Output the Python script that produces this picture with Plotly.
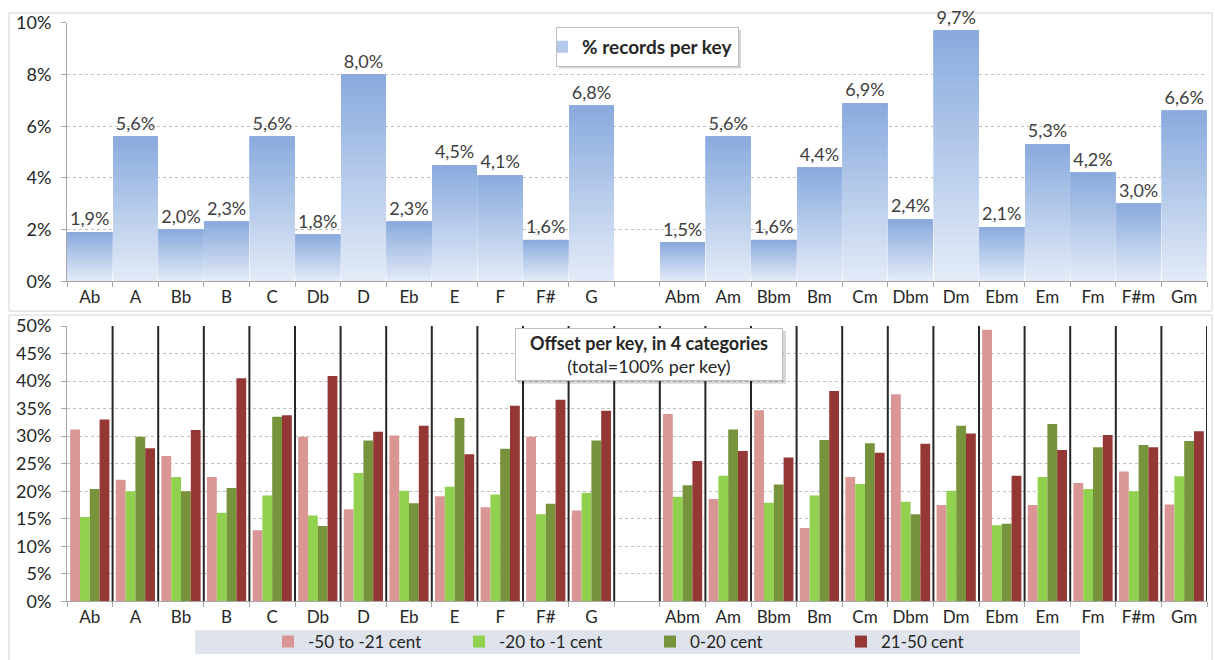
import plotly.graph_objects as go

W, H = 1215, 660
FONT = "Lato"
TXT = "#262626"

# ---- data -------------------------------------------------------------
major_keys = ["Ab", "A", "Bb", "B", "C", "Db", "D", "Eb", "E", "F", "F#", "G"]
minor_keys = ["Abm", "Am", "Bbm", "Bm", "Cm", "Dbm", "Dm", "Ebm", "Em", "Fm", "F#m", "Gm"]

# share of records per key (%)
share_major = [1.9, 5.6, 2.0, 2.3, 5.6, 1.8, 8.0, 2.3, 4.5, 4.1, 1.6, 6.8]
share_minor = [1.5, 5.6, 1.6, 4.4, 6.9, 2.4, 9.7, 2.1, 5.3, 4.2, 3.0, 6.6]

# tuning offset per key, 4 categories (% of the key's records), major keys then minor keys
offset_names = ["-50 to -21 cent", "-20 to -1 cent", "0-20 cent", "21-50 cent"]
off_m50_m21 = [31.2, 22.1, 26.4, 22.6, 12.9, 29.9, 16.7, 30.1, 19.1, 17.1, 29.9, 16.5,
               34.0, 18.6, 34.7, 13.3, 22.6, 37.6, 17.5, 49.3, 17.5, 21.5, 23.6, 17.6]
off_m20_m1 = [15.3, 20.0, 22.6, 16.1, 19.2, 15.6, 23.3, 20.1, 20.8, 19.4, 15.8, 19.7,
              19.0, 22.8, 17.9, 19.2, 21.3, 18.1, 20.1, 13.8, 22.6, 20.4, 20.0, 22.7]
off_0_20 = [20.4, 29.9, 20.0, 20.6, 33.5, 13.7, 29.2, 17.8, 33.3, 27.7, 17.7, 29.2,
            21.1, 31.2, 21.2, 29.3, 28.7, 15.8, 31.9, 14.1, 32.2, 28.0, 28.4, 29.1]
off_21_50 = [33.0, 27.8, 31.1, 40.5, 33.8, 40.9, 30.8, 31.9, 26.7, 35.5, 36.6, 34.6,
             25.5, 27.3, 26.1, 38.2, 27.0, 28.6, 30.5, 22.8, 27.5, 30.2, 28.0, 30.9]
offset_colors = ["#d99694", "#92d050", "#77933c", "#953735"]

# one empty slot separates major and minor keys
categories = major_keys + [" "] + minor_keys


def with_gap(vals):
    return list(vals[:12]) + [None] + list(vals[12:])


share = with_gap(share_major + share_minor)
offsets = [with_gap(v) for v in (off_m50_m21, off_m20_m1, off_0_20, off_21_50)]

fig = go.Figure()

# ---- top: share per key, drawn with a vertical light-to-dark gradient --
bottom_rgb = (226, 234, 247)
top_rgb = (139, 171, 222)
N = 28
for i in range(N):
    t = i / (N - 1)
    rgb = tuple(round(b + (tp - b) * t) for b, tp in zip(bottom_rgb, top_rgb))
    base = [None if v is None else v * i / N for v in share]
    hgt = [None if v is None else v * (N - i) / N for v in share]
    last = i == N - 1
    fig.add_trace(go.Bar(
        x=categories, y=hgt, base=base, xaxis="x", yaxis="y",
        offset=-0.49, width=0.98,
        marker=dict(color="rgb(%d,%d,%d)" % rgb, line=dict(width=0)),
        name="% records per key", legend="legend",
        showlegend=(i == N // 2), legendgroup="share",
        text=[None if v is None else f"{v:.1f}%".replace(".", ",") for v in share] if last else None,
        textposition="outside" if last else "none",
        constraintext="none", cliponaxis=False,
        textfont=dict(size=18, color="#404040", family=FONT),
        hoverinfo="skip" if not last else None,
    ))

# ---- bottom: offset categories per key ---------------------------------
bw = 0.215
for j, (name, vals, col) in enumerate(zip(offset_names, offsets, offset_colors)):
    fig.add_trace(go.Bar(
        x=categories, y=vals, xaxis="x2", yaxis="y2",
        offset=-0.43 + j * bw, width=bw,
        marker=dict(color=col, line=dict(width=0)),
        name=name, legend="legend2",
    ))

# ---- axes ---------------------------------------------------------------
xdom = [67 / W, 1207 / W]
axis_col = "#a6a6a6"
common_x = dict(
    type="category", categoryorder="array", categoryarray=categories,
    range=[-0.5, len(categories) - 0.5], tickson="boundaries", tickangle=0,
    ticks="outside", ticklen=5, tickcolor=axis_col, showline=True, linecolor=axis_col,
    showgrid=False, zeroline=False, tickfont=dict(size=17, color=TXT, family=FONT),
    domain=xdom, automargin=False, fixedrange=True,
)
common_y = dict(
    ticksuffix="%", showgrid=True, gridcolor="#bfbfbf", griddash="dot", gridwidth=1,
    showline=True, linecolor=axis_col, ticks="outside", ticklen=5, tickcolor=axis_col,
    zeroline=False, tickfont=dict(size=18, color=TXT, family=FONT), automargin=False,
    ticklabelstandoff=6, fixedrange=True,
)
fig.update_layout(
    xaxis=dict(anchor="y", **common_x),
    yaxis=dict(anchor="x", domain=[1 - 283 / H, 1 - 23 / H], range=[0, 10], dtick=2, **common_y),
    xaxis2=dict(anchor="y2", **common_x),
    yaxis2=dict(anchor="x2", domain=[1 - 605 / H, 1 - 328 / H], range=[0, 50], dtick=5, **common_y),
)

# ---- frames, separators, shadows -----------------------------------------
shapes = [
    dict(type="rect", xref="paper", yref="paper", x0=9 / W, x1=1212 / W,
         y0=1 - 313 / H, y1=1 - 13 / H, line=dict(color="#d4d4d4", width=1), layer="below"),
    dict(type="rect", xref="paper", yref="paper", x0=9 / W, x1=1212 / W,
         y0=-0.02, y1=1 - 317 / H, line=dict(color="#d4d4d4", width=1), layer="below"),
    dict(type="rect", xref="paper", yref="paper", x0=195 / W, x1=1080 / W,
         y0=1 - 658 / H, y1=1 - 634 / H, fillcolor="#dfe4ec", line=dict(width=0), layer="below"),
]
for k in range(len(categories)):
    shapes.append(dict(type="line", xref="x2", yref="y2", x0=k + 0.5, x1=k + 0.5,
                       y0=0, y1=50, line=dict(color="#262626", width=2), layer="above"))
shapes += [
    dict(type="rect", xref="paper", yref="paper", x0=518 / W, x1=786 / W,
         y0=1 - 386 / H, y1=1 - 333 / H, fillcolor="rgba(0,0,0,0.16)", line=dict(width=0), layer="above"),
    dict(type="rect", xref="paper", yref="paper", x0=559 / W, x1=741 / W,
         y0=1 - 69 / H, y1=1 - 30 / H, fillcolor="rgba(0,0,0,0.16)", line=dict(width=0), layer="above"),
]

fig.update_layout(
    width=W, height=H, autosize=False,
    margin=dict(l=0, r=0, t=0, b=0),
    paper_bgcolor="white", plot_bgcolor="white",
    font=dict(family=FONT, color=TXT, size=15),
    barmode="overlay",
    shapes=shapes,
    legend=dict(x=556 / W, y=1 - 27 / H, xanchor="left", yanchor="top", indentation=-15,
                bgcolor="white", bordercolor="#bfbfbf", borderwidth=1,
                font=dict(size=19, color=TXT, family=FONT, weight="bold")),
    legend2=dict(orientation="h", x=268 / W, y=1 - 646 / H, xanchor="left", yanchor="middle",
                 entrywidth=146, entrywidthmode="pixels", bgcolor="rgba(0,0,0,0)",
                 font=dict(size=17, color=TXT, family=FONT)),
    annotations=[dict(
        xref="paper", yref="paper", x=649 / W, y=1 - 356.5 / H, xanchor="center", yanchor="middle",
        text="<b>Offset per key, in 4 categories</b><br>(total=100% per key)",
        showarrow=False, align="center", width=266, height=51,
        bgcolor="white", bordercolor="#bfbfbf", borderwidth=1, borderpad=0,
        font=dict(size=18, color=TXT, family=FONT),
    )],
)

fig.write_html("out.html")
